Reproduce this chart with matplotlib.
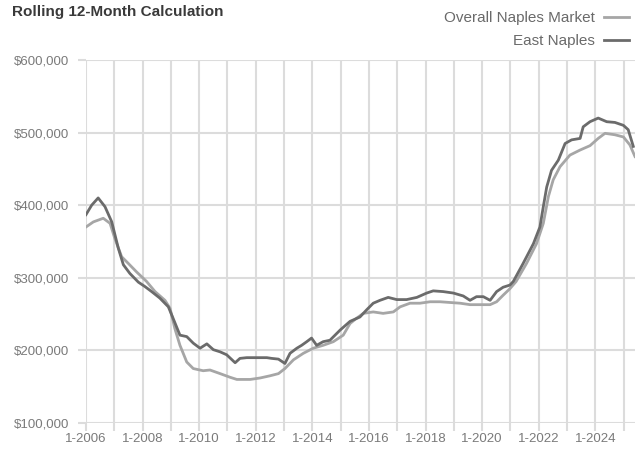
import matplotlib
matplotlib.use("Agg")
from matplotlib import pyplot as plt
from matplotlib.ticker import FuncFormatter, MultipleLocator

# Overall Naples Market (rolling 12-month median)
overall_years = [2006.0, 2006.26, 2006.61, 2006.85, 2007.02, 2007.26, 2007.49, 2007.79,
                 2008.14, 2008.44, 2008.79, 2008.97, 2009.14, 2009.32, 2009.56, 2009.79,
                 2010.14, 2010.38, 2010.74, 2011.09, 2011.33, 2011.8, 2012.15, 2012.5,
                 2012.8, 2013.03, 2013.33, 2013.68, 2014.03, 2014.38, 2014.74, 2015.09,
                 2015.33, 2015.55, 2015.8, 2016.15, 2016.5, 2016.86, 2017.1, 2017.45,
                 2017.8, 2018.16, 2018.51, 2018.86, 2019.22, 2019.57, 2019.93, 2020.28,
                 2020.51, 2020.74, 2020.98, 2021.2, 2021.57, 2021.92, 2022.16, 2022.34,
                 2022.51, 2022.75, 2023.1, 2023.46, 2023.81, 2024.1, 2024.34, 2024.69,
                 2024.99, 2025.22, 2025.4]
overall_values = [370, 377, 382, 375, 354, 329, 320, 308,
                  295, 281, 269, 258, 230, 207, 184, 175,
                  172, 173, 168, 163, 160, 160, 162, 165,
                  168, 175, 187, 196, 203, 207, 212, 221,
                  237, 244, 251, 253, 251, 253, 260, 265,
                  265, 267, 267, 266, 265, 263, 263, 263,
                  267, 276, 285, 295, 320, 347, 375, 412,
                  435, 453, 469, 476, 482, 492, 499, 497,
                  494, 483, 467]

# East Naples
east_years = [2006.0, 2006.2, 2006.43, 2006.67, 2006.91, 2007.14, 2007.32, 2007.55,
              2007.85, 2008.08, 2008.32, 2008.61, 2008.91, 2009.08, 2009.32, 2009.56,
              2009.79, 2010.03, 2010.27, 2010.5, 2010.74, 2010.97, 2011.27, 2011.44,
              2011.68, 2012.03, 2012.39, 2012.56, 2012.8, 2013.03, 2013.21, 2013.45,
              2013.62, 2013.8, 2013.97, 2014.15, 2014.38, 2014.62, 2014.98, 2015.33,
              2015.68, 2015.92, 2016.15, 2016.39, 2016.68, 2016.98, 2017.33, 2017.69,
              2018.04, 2018.27, 2018.62, 2018.98, 2019.33, 2019.57, 2019.8, 2020.04,
              2020.28, 2020.51, 2020.74, 2020.98, 2021.1, 2021.45, 2021.81, 2022.04,
              2022.16, 2022.28, 2022.45, 2022.69, 2022.93, 2023.16, 2023.46, 2023.57,
              2023.81, 2024.1, 2024.4, 2024.69, 2024.99, 2025.16, 2025.34]
east_values = [387, 400, 410, 398, 377, 341, 318, 306,
               294, 288, 281, 272, 260, 244, 221, 219,
               210, 203, 209, 201, 198, 194, 183, 189,
               190, 190, 190, 189, 188, 182, 196, 203,
               207, 212, 217, 207, 212, 214, 228, 240,
               246, 256, 265, 269, 273, 270, 270, 273,
               279, 282, 281, 279, 275, 269, 274, 274,
               269, 281, 287, 290, 295, 320, 347, 370,
               398, 425, 448, 462, 485, 490, 492, 508,
               515, 520, 515, 514, 510, 504, 481]

years_labelled = list(range(2006, 2026, 2))

fam = ["Liberation Sans", "DejaVu Sans"]
grid_c = "#dcdcdc"

fig = plt.figure(figsize=(6.35, 4.5), dpi=100)
ax = fig.add_axes([86 / 635, 27 / 450, 549 / 635, 363 / 450])

ax.plot(overall_years, [v * 1000 for v in overall_values], color="#a6a6a6", lw=2.0,
        label="Overall Naples Market")
ax.plot(east_years, [v * 1000 for v in east_values], color="#6b6b6b", lw=2.0,
        label="East Naples")

ax.set_xlim(2006, 2025.4)
ax.set_ylim(100000, 600000)
ax.xaxis.set_major_locator(MultipleLocator(1))
ax.yaxis.set_major_locator(MultipleLocator(100000))
ax.xaxis.set_major_formatter(FuncFormatter(
    lambda x, p: "1-%d" % round(x) if round(x) in years_labelled else ""))
ax.yaxis.set_major_formatter(FuncFormatter(lambda y, p: "${:,.0f}".format(y)))

ax.grid(True, color=grid_c, lw=1.5)
ax.set_axisbelow(True)
for s in ax.spines.values():
    s.set_visible(False)
ax.tick_params(axis="both", color=grid_c, width=1.5, length=6, labelcolor="#7a7a7a")
for lab in ax.get_xticklabels() + ax.get_yticklabels():
    lab.set_family(fam)
    lab.set_fontsize(9.5)
ax.tick_params(axis="x", pad=1.5)
ax.tick_params(axis="y", pad=6)

fig.text(12 / 635, 1 - 12 / 450, "Rolling 12-Month Calculation", family=fam,
         fontsize=11, color="#3a3a3a", fontweight="bold", va="center", ha="left")

leg = fig.legend(loc="upper right", bbox_to_anchor=(1.012, 1.006), frameon=False,
                 markerfirst=False, handlelength=1.6, handletextpad=0.6,
                 labelspacing=0.6, prop={"family": fam, "size": 11})
for t in leg.get_texts():
    t.set_color("#6a6a6a")

fig.savefig("out.png", dpi=100)
